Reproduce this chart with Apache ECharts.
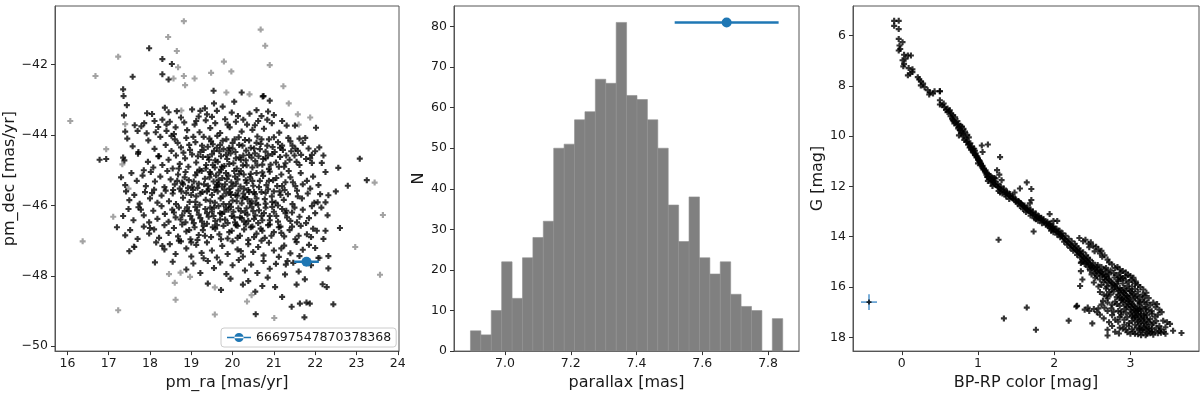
<!DOCTYPE html>
<html>
<head>
<meta charset="utf-8">
<script src="https://cdn.jsdelivr.net/npm/echarts@6.0.0/dist/echarts.min.js"></script>
<style>
html, body { margin: 0; padding: 0; background: #fff; }
#container { width: 1200px; height: 396px; }
</style>
</head>
<body>
<div id="container"></div>
<script>
// ---- data ----
var starId = '66697547870378368';

// target star: [x, y, xerr, yerr]
var pmStar = [21.79, -47.60, 0.30, 0];
var plxStar = [7.674, 81, 0.158, 0];
var cmdStar = [-0.43, 16.60, 0.105, 0.316];

// proper motions of field stars (gray) and members (black)
var pmGray = [
    [18.82, -40.76], [18.44, -41.21], [20.68, -41.00], [20.79, -41.46], [18.65, -41.61],
    [17.23, -41.77], [19.79, -41.91], [20.90, -42.01], [18.68, -42.07], [16.68, -42.32],
    [18.57, -42.39], [18.82, -42.32], [19.08, -42.39], [19.48, -42.23], [19.97, -42.19],
    [18.85, -42.58], [21.23, -42.61], [19.85, -42.79], [20.41, -42.84], [21.36, -43.10],
    [18.76, -43.30], [21.58, -43.41], [21.88, -43.50], [16.07, -43.60], [17.40, -43.69],
    [16.94, -44.40], [17.33, -44.83], [17.48, -45.52], [23.44, -45.35], [23.64, -46.27],
    [17.11, -46.32], [16.37, -47.02], [17.61, -47.16], [22.97, -47.18], [22.11, -47.49],
    [18.46, -47.95], [18.74, -47.91], [18.60, -48.20], [18.97, -48.03], [19.57, -48.33],
    [23.57, -47.97], [18.62, -48.68], [20.46, -48.55], [20.35, -48.73], [17.23, -48.98],
    [19.57, -49.10], [21.01, -49.20], [21.60, -43.70]
];

var pmBlack = [
    [17.98, -41.53], [18.30, -41.84], [18.53, -41.98], [17.58, -42.34], [18.30, -42.27],
    [18.45, -42.42], [17.35, -42.70], [17.36, -42.89], [19.54, -42.74], [20.22, -42.79],
    [20.73, -42.90], [20.90, -43.02],
    [17.44, -43.15], [17.37, -43.44], [17.93, -43.38], [18.05, -43.40], [18.36, -43.22],
    [18.45, -43.35], [18.65, -43.32], [19.02, -43.27], [19.22, -43.31], [19.33, -43.24],
    [19.38, -43.41], [19.18, -43.47], [19.55, -43.10], [19.62, -43.31], [19.76, -43.19],
    [20.04, -43.05], [19.98, -43.36], [20.13, -43.46], [20.41, -43.39], [20.58, -43.29],
    [20.75, -42.89], [20.70, -43.46], [21.00, -43.43], [20.86, -43.33],
    [17.63, -43.72], [17.70, -43.88], [17.79, -43.75], [17.92, -43.95], [17.86, -43.66],
    [18.11, -43.60], [18.20, -43.77], [18.14, -43.92], [18.30, -43.56], [18.40, -43.70],
    [18.48, -43.62], [18.62, -43.78], [18.58, -43.97], [18.83, -43.64], [18.90, -43.86],
    [19.08, -43.70], [19.20, -43.92], [19.35, -43.58], [19.46, -43.80], [19.58, -43.66],
    [19.70, -43.94], [19.82, -43.55], [19.93, -43.78], [20.08, -43.62], [20.22, -43.90],
    [20.35, -43.70], [20.48, -43.85], [20.62, -43.60], [20.76, -43.82], [20.95, -43.66],
    [21.13, -43.93], [21.31, -43.73], [21.51, -43.73], [22.02, -43.79], [17.40, -43.90],
    [17.45, -44.10], [17.58, -44.32], [17.72, -44.48], [17.96, -44.15], [18.11, -44.39],
    [18.25, -44.05], [18.38, -44.28], [18.52, -44.45], [18.60, -44.12], [18.75, -44.35],
    [18.88, -44.08], [18.97, -44.42], [19.10, -44.20], [19.22, -44.48], [19.30, -44.05],
    [19.40, -44.33], [19.48, -44.18], [19.55, -44.45], [19.63, -44.02], [19.70, -44.28],
    [19.78, -44.40], [19.85, -44.12], [19.92, -44.36], [20.00, -44.22], [20.07, -44.48],
    [20.15, -44.06], [20.24, -44.30], [20.33, -44.44], [20.40, -44.15], [20.52, -44.38],
    [20.60, -44.04], [20.68, -44.25], [20.80, -44.47], [20.88, -44.12], [20.97, -44.34],
    [21.10, -44.20], [21.22, -44.42], [21.35, -44.08], [21.45, -44.30], [21.58, -44.45],
    [21.70, -44.22], [21.84, -44.38], [22.10, -44.35], [21.62, -44.10],
    [16.78, -44.70], [16.94, -44.68], [17.35, -44.64], [17.38, -44.72], [17.71, -44.53],
    [17.95, -44.76], [18.08, -44.92], [18.22, -44.60], [18.30, -44.85], [18.45, -44.70],
    [18.55, -44.95], [18.63, -44.58], [18.72, -44.82], [18.85, -44.66], [18.93, -44.90],
    [19.02, -44.55], [19.12, -44.78], [19.20, -44.98], [19.28, -44.62], [19.36, -44.85],
    [19.43, -44.70], [19.50, -44.55], [19.57, -44.92], [19.64, -44.76], [19.72, -44.60],
    [19.80, -44.88], [19.87, -44.68], [19.95, -44.52], [20.02, -44.80], [20.10, -44.95],
    [20.17, -44.63], [20.25, -44.86], [20.32, -44.72], [20.40, -44.56], [20.48, -44.92],
    [20.55, -44.74], [20.63, -44.60], [20.72, -44.84], [20.80, -44.66], [20.88, -44.96],
    [20.96, -44.54], [21.05, -44.78], [21.15, -44.62], [21.25, -44.90], [21.38, -44.70],
    [21.50, -44.58], [21.62, -44.85], [21.78, -44.68], [21.92, -44.56], [22.16, -44.79],
    [21.92, -44.79], [22.56, -44.93], [23.08, -44.67],
    [17.30, -45.20], [17.40, -45.42], [17.55, -45.08], [17.68, -45.30], [17.82, -45.15],
    [17.90, -45.45], [18.02, -45.05], [18.12, -45.32], [18.25, -45.18], [18.35, -45.48],
    [18.42, -45.02], [18.50, -45.26], [18.60, -45.40], [18.68, -45.12], [18.78, -45.35],
    [18.86, -45.05], [18.94, -45.28], [19.02, -45.46], [19.10, -45.14], [19.18, -45.38],
    [19.25, -45.02], [19.33, -45.24], [19.40, -45.44], [19.47, -45.10], [19.54, -45.32],
    [19.61, -45.48], [19.68, -45.06], [19.75, -45.22], [19.82, -45.40], [19.90, -45.15],
    [19.97, -45.34], [20.04, -45.02], [20.12, -45.26], [20.19, -45.46], [20.27, -45.12],
    [20.34, -45.36], [20.42, -45.20], [20.50, -45.44], [20.58, -45.08], [20.66, -45.30],
    [20.74, -45.16], [20.82, -45.42], [20.90, -45.04], [20.98, -45.28], [21.08, -45.45],
    [21.18, -45.12], [21.28, -45.34], [21.40, -45.20], [21.52, -45.45], [21.65, -45.08],
    [21.80, -45.30], [21.95, -45.18], [22.08, -45.42], [22.25, -45.05], [22.79, -45.44],
    [23.25, -45.28],
    [17.42, -45.60], [17.50, -45.85], [17.62, -45.70], [17.75, -45.95], [17.88, -45.62],
    [18.00, -45.80], [18.10, -45.55], [18.18, -45.92], [18.28, -45.72], [18.38, -45.58],
    [18.46, -45.88], [18.55, -45.66], [18.63, -45.96], [18.72, -45.52], [18.80, -45.78],
    [18.88, -45.64], [18.96, -45.90], [19.04, -45.56], [19.12, -45.74], [19.20, -45.98],
    [19.27, -45.62], [19.35, -45.84], [19.42, -45.54], [19.50, -45.70], [19.57, -45.92],
    [19.64, -45.60], [19.71, -45.80], [19.78, -45.96], [19.85, -45.66], [19.92, -45.52],
    [20.00, -45.86], [20.07, -45.70], [20.14, -45.58], [20.22, -45.94], [20.30, -45.76],
    [20.38, -45.56], [20.46, -45.88], [20.54, -45.68], [20.62, -45.98], [20.70, -45.62],
    [20.78, -45.82], [20.86, -45.54], [20.95, -45.74], [21.04, -45.92], [21.14, -45.60],
    [21.24, -45.84], [21.34, -45.68], [21.45, -45.96], [21.56, -45.58], [21.68, -45.80],
    [21.82, -45.66], [21.98, -45.92], [22.06, -45.91], [22.25, -45.91], [22.32, -45.71],
    [22.50, -45.60],
    [17.35, -46.30], [17.48, -46.10], [17.60, -46.42], [17.72, -46.05], [17.85, -46.28],
    [17.98, -46.48], [18.08, -46.15], [18.18, -46.38], [18.28, -46.02], [18.36, -46.24],
    [18.45, -46.46], [18.54, -46.12], [18.62, -46.34], [18.70, -46.06], [18.78, -46.28],
    [18.86, -46.48], [18.94, -46.16], [19.02, -46.40], [19.10, -46.04], [19.18, -46.26],
    [19.26, -46.46], [19.34, -46.10], [19.42, -46.32], [19.50, -46.18], [19.58, -46.44],
    [19.66, -46.02], [19.74, -46.24], [19.82, -46.40], [19.90, -46.12], [19.98, -46.30],
    [20.06, -46.48], [20.14, -46.08], [20.22, -46.36], [20.30, -46.20], [20.38, -46.44],
    [20.46, -46.04], [20.55, -46.28], [20.64, -46.14], [20.72, -46.42], [20.80, -46.06],
    [20.90, -46.30], [21.00, -46.18], [21.10, -46.46], [21.20, -46.10], [21.32, -46.34],
    [21.44, -46.20], [21.56, -46.48], [21.70, -46.12], [21.85, -46.36], [22.00, -46.22],
    [22.15, -46.06], [22.30, -46.28],
    [17.20, -46.62], [17.40, -46.85], [17.52, -46.70], [17.70, -46.95], [17.85, -46.60],
    [17.98, -46.80], [18.10, -46.68], [18.22, -46.92], [18.35, -46.56], [18.45, -46.78],
    [18.58, -46.64], [18.68, -46.88], [18.78, -46.54], [18.88, -46.74], [18.98, -46.96],
    [19.08, -46.62], [19.18, -46.84], [19.28, -46.70], [19.38, -46.52], [19.48, -46.90],
    [19.58, -46.66], [19.68, -46.82], [19.78, -46.58], [19.88, -46.94], [19.98, -46.72],
    [20.08, -46.56], [20.18, -46.86], [20.28, -46.68], [20.38, -46.98], [20.48, -46.60],
    [20.58, -46.80], [20.68, -46.66], [20.78, -46.92], [20.90, -46.54], [21.00, -46.76],
    [21.12, -46.62], [21.25, -46.88], [21.38, -46.70], [21.52, -46.96], [21.65, -46.58],
    [21.80, -46.82], [21.95, -46.66], [22.04, -46.72], [22.25, -46.72], [22.60, -46.64],
    [22.20, -46.95],
    [17.50, -47.30], [17.62, -47.18], [18.15, -47.05], [18.35, -47.25], [18.48, -47.10],
    [18.62, -47.38], [18.75, -47.02], [18.88, -47.22], [19.00, -47.45], [19.12, -47.12],
    [19.25, -47.35], [19.38, -47.05], [19.50, -47.28], [19.62, -47.48], [19.75, -47.15],
    [19.88, -47.38], [20.00, -47.02], [20.12, -47.25], [20.25, -47.45], [20.38, -47.10],
    [20.50, -47.32], [20.62, -47.18], [20.75, -47.42], [20.88, -47.06], [21.00, -47.28],
    [21.12, -47.46], [21.25, -47.14], [21.40, -47.36], [21.55, -47.04], [21.70, -47.26],
    [21.85, -47.12], [22.00, -47.21], [22.32, -47.44], [22.08, -47.49],
    [18.12, -47.62], [18.55, -47.60], [18.88, -47.82], [19.05, -47.65], [19.22, -47.92],
    [19.40, -47.58], [19.55, -47.78], [19.70, -47.62], [19.85, -47.95], [20.00, -47.70],
    [20.15, -47.55], [20.30, -47.85], [20.45, -47.68], [20.60, -47.92], [20.75, -47.58],
    [20.90, -47.80], [21.05, -47.66], [21.33, -47.58], [21.29, -47.68], [21.47, -47.63],
    [21.27, -47.96], [22.32, -47.79], [21.60, -47.88],
    [19.40, -48.22], [19.72, -48.40], [19.95, -48.08], [20.25, -48.25], [20.38, -48.15],
    [20.72, -48.29], [21.03, -48.32], [21.75, -48.10], [22.18, -48.24], [22.28, -48.32],
    [20.55, -48.45], [20.85, -48.05],
    [21.43, -48.88], [21.63, -48.79], [21.79, -48.76], [21.87, -48.79], [22.44, -48.81],
    [20.56, -49.09], [21.74, -49.18], [21.20, -48.60],
    [19.35, -44.95], [19.45, -45.05], [19.52, -44.85], [19.60, -45.15], [19.66, -45.38],
    [19.72, -44.98], [19.80, -45.55], [19.86, -45.25], [19.94, -45.62], [20.00, -45.45],
    [20.06, -45.18], [20.12, -45.72], [20.20, -45.02], [20.28, -45.52], [20.36, -45.82],
    [20.44, -45.10], [20.52, -45.62], [20.60, -44.86], [19.38, -45.60], [19.46, -45.88],
    [19.55, -46.06], [19.62, -45.42], [19.70, -46.22], [19.76, -45.74], [19.84, -46.06],
    [19.92, -45.96], [20.02, -46.18], [20.10, -45.88], [20.18, -46.34], [20.26, -45.66],
    [20.34, -46.08], [20.42, -45.94], [20.50, -46.16], [20.58, -45.80], [19.30, -44.42],
    [19.40, -44.62], [19.52, -44.26], [19.58, -44.72], [19.68, -44.46], [19.76, -44.16],
    [19.84, -44.56], [19.92, -44.82], [20.00, -44.38], [20.08, -44.66], [20.16, -44.28],
    [20.26, -44.58], [20.34, -44.86], [20.44, -44.36], [20.54, -44.52], [20.66, -44.40],
    [20.74, -44.68], [20.84, -44.30], [20.92, -44.84], [21.02, -44.48], [21.12, -44.90],
    [21.20, -44.30], [21.30, -44.58], [21.42, -44.46], [21.55, -44.76], [19.00, -45.70],
    [19.10, -45.90], [19.15, -45.50], [18.90, -46.05], [18.80, -45.40], [18.70, -44.95],
    [20.70, -46.30], [20.80, -45.95], [20.90, -46.42], [21.00, -45.60], [21.10, -46.00],
    [21.20, -45.45], [21.30, -46.15],
    [18.52, -44.02], [18.67, -44.22], [18.81, -44.50], [18.95, -44.28], [19.05, -44.05],
    [19.16, -44.60], [19.26, -44.30], [19.44, -44.10], [19.62, -44.36], [19.74, -44.90],
    [19.90, -44.44], [20.05, -44.12], [20.20, -44.70], [20.30, -44.14], [20.46, -44.64],
    [20.58, -44.22], [20.70, -44.12], [20.86, -44.58], [21.00, -44.06], [21.15, -44.36],
    [21.28, -44.80], [21.40, -44.18], [21.52, -44.38], [21.66, -44.56], [21.76, -44.08],
    [21.88, -44.66], [22.00, -44.46], [22.20, -44.58], [18.56, -45.56], [18.66, -45.30],
    [18.76, -45.60], [18.84, -45.20], [18.92, -45.50], [19.06, -45.32], [19.14, -45.06],
    [19.22, -45.66], [19.31, -45.40], [19.44, -45.20], [19.56, -45.56], [19.66, -45.28],
    [19.74, -45.46], [19.84, -45.08], [19.96, -45.70], [20.08, -45.38], [20.16, -45.10],
    [20.24, -45.80], [20.32, -45.28], [20.40, -45.62], [20.48, -45.30], [20.56, -45.94],
    [20.64, -45.48], [20.72, -45.06], [20.80, -45.64], [20.88, -45.30], [20.96, -45.90],
    [21.06, -45.22], [21.16, -45.70], [21.26, -45.56], [21.36, -45.02], [21.46, -45.34],
    [21.58, -45.74], [21.70, -45.40], [21.88, -45.52], [22.12, -45.68], [18.58, -46.20],
    [18.74, -46.40], [18.84, -46.16], [18.98, -46.30], [19.06, -46.50], [19.14, -46.14],
    [19.22, -46.36], [19.30, -46.58], [19.38, -46.22], [19.46, -46.06], [19.54, -46.30],
    [19.62, -46.56], [19.70, -46.40], [19.80, -46.18], [19.88, -46.50], [19.96, -46.04],
    [20.04, -46.34], [20.12, -46.58], [20.20, -46.16], [20.28, -46.46], [20.36, -46.26],
    [20.44, -46.62], [20.52, -46.38], [20.62, -46.50], [20.76, -46.22], [20.86, -46.56],
    [20.96, -46.04], [21.06, -46.30], [21.16, -46.60], [21.28, -46.22], [21.40, -46.44],
    [21.50, -46.06], [21.62, -46.32], [21.78, -46.50], [21.92, -46.02], [18.70, -47.00],
    [18.95, -46.70], [19.15, -46.98], [19.33, -46.86], [19.52, -46.62], [19.72, -46.96],
    [19.92, -46.76], [20.12, -46.92], [20.32, -46.54], [20.52, -46.90], [20.72, -46.72],
    [20.94, -46.86], [21.18, -46.78], [21.44, -46.60], [21.60, -46.86], [21.90, -46.90],
    [18.40, -43.88], [18.75, -43.50], [19.12, -43.60], [19.50, -43.48], [19.88, -43.70],
    [20.26, -43.56], [20.54, -43.72], [20.84, -43.56], [21.20, -43.60], [18.20, -44.60],
    [17.85, -45.00], [18.05, -45.65], [17.78, -46.12], [18.00, -46.64], [18.30, -47.15],
    [19.00, -47.05], [19.30, -47.50], [20.20, -47.30], [20.70, -47.00], [21.18, -47.22],
    [21.62, -47.44], [21.90, -47.70], [21.55, -48.25]
];

// parallax histogram
var binStart = 6.895;
var binWidth = 0.03165;
var plxCounts = [5, 4, 10, 22, 13, 23, 28, 32, 50, 51, 57, 59, 67, 66, 81,
                 63, 62, 57, 50, 36, 27, 38, 23, 19, 22, 14, 11, 10, 0, 8];

// colour-magnitude diagram: [BP-RP, G]
var cmdPoints = [
    [-0.10, 5.41], [-0.04, 5.41], [-0.10, 5.61], [-0.04, 5.74], [-0.04, 6.13],
    [0.01, 6.26], [-0.03, 6.39], [-0.02, 6.53], [-0.04, 6.59], [0.03, 6.76],
    [0.08, 6.79], [0.12, 6.79], [0.05, 6.92], [0.01, 6.98], [0.03, 7.12],
    [0.02, 7.22], [0.09, 7.29], [0.14, 7.34], [0.11, 7.51], [0.14, 7.45],
    [0.08, 7.58], [0.21, 7.65], [0.23, 7.74], [0.25, 7.82], [0.28, 7.91],
    [0.25, 7.98], [0.30, 8.05], [0.34, 8.17], [0.37, 8.26], [0.41, 8.30],
    [0.36, 8.34], [0.43, 8.21], [0.50, 8.21], [0.50, 8.57], [0.50, 8.74],
    [0.53, 8.77], [0.56, 8.84], [0.60, 8.90], [0.63, 8.97], [0.65, 9.10],
    [0.67, 9.17], [0.60, 9.04], [0.67, 9.36], [0.69, 9.49], [0.72, 9.55],
    [0.74, 9.69], [0.76, 9.75], [0.78, 9.88], [0.75, 9.97], [0.80, 10.01],
    [0.82, 10.15], [0.85, 10.21], [0.87, 10.34], [0.89, 10.45], [0.91, 10.54],
    [0.93, 10.61], [0.96, 10.74], [0.98, 10.84], [1.00, 10.93], [1.02, 11.00],
    [1.04, 11.13], [1.06, 11.26], [1.09, 11.39], [1.11, 11.53], [1.13, 11.63],
    [0.70, 9.25], [0.73, 9.40], [0.77, 9.58], [0.79, 9.62], [0.83, 9.82],
    [0.86, 9.95], [0.88, 10.05], [0.90, 10.28], [0.92, 10.40], [0.95, 10.50],
    [0.97, 10.68], [0.99, 10.80], [1.01, 10.95], [1.03, 11.05], [1.05, 11.20],
    [1.07, 11.32], [1.10, 11.45], [0.66, 9.30], [0.74, 9.52], [0.96, 10.58],
    [1.00, 11.08],
    [0.50, 8.21], [0.81, 9.71], [1.05, 10.37], [1.13, 10.33], [1.06, 10.63],
    [1.29, 10.83], [1.25, 11.35], [1.28, 11.53], [1.31, 11.75], [1.64, 11.84],
    [1.70, 12.10], [1.55, 12.08], [1.48, 12.24], [1.70, 12.54], [1.68, 12.67],
    [1.94, 13.10], [2.04, 13.37], [1.99, 13.37], [1.73, 13.79],
    [1.12, 11.62], [1.15, 11.70], [1.13, 11.78], [1.18, 11.75], [1.17, 11.85],
    [1.20, 11.82], [1.22, 11.92], [1.19, 11.98], [1.24, 11.95], [1.26, 12.02],
    [1.23, 11.68], [1.16, 11.58], [1.21, 11.66],
    [1.28, 12.05], [1.30, 12.12], [1.27, 12.18], [1.33, 12.15], [1.35, 12.22],
    [1.32, 12.28], [1.38, 12.26], [1.40, 12.35], [1.37, 12.40], [1.42, 12.38],
    [1.44, 12.45], [1.41, 12.50], [1.46, 12.48], [1.29, 12.24], [1.36, 12.32],
    [1.48, 12.55], [1.50, 12.60], [1.53, 12.58], [1.52, 12.68], [1.56, 12.66],
    [1.58, 12.74], [1.55, 12.78], [1.60, 12.80], [1.62, 12.86], [1.59, 12.90],
    [1.64, 12.92], [1.66, 12.98], [1.63, 13.02], [1.68, 13.00],
    [1.70, 13.05], [1.72, 13.12], [1.69, 13.16], [1.75, 13.14], [1.77, 13.22],
    [1.74, 13.26], [1.80, 13.25], [1.82, 13.32], [1.79, 13.36], [1.85, 13.35],
    [1.87, 13.42], [1.84, 13.46], [1.90, 13.45], [1.89, 13.52], [1.76, 13.30],
    [1.93, 13.50],
    [1.92, 13.58], [1.95, 13.56], [1.94, 13.64], [1.98, 13.62], [1.97, 13.70],
    [2.00, 13.72], [2.02, 13.78], [1.99, 13.82], [2.05, 13.80], [2.06, 13.88],
    [2.04, 13.92], [2.09, 13.90], [2.10, 13.98], [2.08, 14.02], [1.96, 13.76],
    [2.12, 14.05], [2.14, 14.10], [2.16, 14.16], [2.13, 14.20], [2.18, 14.22],
    [2.20, 14.28], [2.17, 14.32], [2.22, 14.34], [2.24, 14.40], [2.21, 14.44],
    [2.26, 14.46], [2.28, 14.52], [2.25, 14.56], [2.30, 14.55],
    [2.31, 14.62], [2.33, 14.66], [2.30, 14.72], [2.35, 14.70], [2.37, 14.78],
    [2.34, 14.82], [2.39, 14.84], [2.41, 14.90], [2.38, 14.94], [2.43, 14.96],
    [2.45, 15.02], [2.42, 15.06], [2.36, 15.00], [2.40, 15.08],
    [2.46, 15.10], [2.48, 15.18], [2.50, 15.14], [2.52, 15.22], [2.49, 15.26],
    [2.54, 15.28], [2.56, 15.20], [2.58, 15.32], [2.55, 15.38], [2.60, 15.36],
    [2.62, 15.42], [2.59, 15.46], [2.64, 15.48], [2.57, 15.12], [2.66, 15.30],
    [2.70, 15.40], [2.47, 15.34], [2.53, 15.44], [2.44, 15.20],
    [2.63, 15.55], [2.66, 15.60], [2.68, 15.56], [2.70, 15.66], [2.67, 15.72],
    [2.72, 15.70], [2.74, 15.78], [2.71, 15.84], [2.76, 15.82], [2.78, 15.90],
    [2.75, 15.95], [2.80, 15.94], [2.82, 15.88], [2.65, 15.80], [2.60, 15.70],
    [2.84, 15.76], [2.88, 15.68], [2.79, 15.62], [2.69, 15.98], [2.62, 15.92],
    [2.80, 16.02], [2.83, 16.08], [2.86, 16.04], [2.85, 16.14], [2.88, 16.12],
    [2.90, 16.20], [2.87, 16.26], [2.92, 16.24], [2.94, 16.32], [2.91, 16.38],
    [2.96, 16.36], [2.98, 16.44], [2.95, 16.48], [2.78, 16.18], [2.74, 16.30],
    [2.82, 16.40], [3.00, 16.16], [3.04, 16.28], [2.70, 16.45], [2.76, 16.10],
    [3.06, 16.42], [2.89, 16.46],
    [2.97, 16.55], [3.00, 16.60], [2.98, 16.68], [3.02, 16.66], [3.04, 16.74],
    [3.01, 16.80], [3.06, 16.78], [3.08, 16.86], [3.05, 16.92], [3.10, 16.90],
    [3.03, 16.98], [2.90, 16.62], [2.86, 16.75], [2.92, 16.88], [2.80, 16.58],
    [2.84, 16.95], [3.12, 16.70], [3.15, 16.82], [3.18, 16.60], [2.94, 16.72],
    [2.88, 16.52], [3.14, 16.96], [2.75, 16.85], [3.20, 16.88],
    [3.08, 17.02], [3.10, 17.10], [3.06, 17.14], [3.12, 17.18], [3.14, 17.26],
    [3.09, 17.30], [3.16, 17.34], [3.18, 17.42], [3.12, 17.46], [3.20, 17.48],
    [3.00, 17.06], [2.96, 17.20], [3.02, 17.36], [2.92, 17.30], [3.22, 17.12],
    [3.26, 17.28], [3.24, 17.40], [2.88, 17.10], [2.98, 17.44], [3.04, 17.24],
    [3.28, 17.06], [3.18, 17.22], [2.84, 17.38], [3.30, 17.44],
    [3.14, 17.55], [3.18, 17.62], [3.22, 17.58], [3.20, 17.70], [3.24, 17.76],
    [3.16, 17.80], [3.26, 17.84], [3.12, 17.72], [3.08, 17.62], [3.04, 17.78],
    [3.00, 17.86], [3.28, 17.66], [3.32, 17.78], [3.36, 17.84], [3.40, 17.82],
    [3.10, 17.88], [2.96, 17.80], [3.30, 17.90], [3.20, 17.92], [3.44, 17.78],
    [2.33, 14.05], [2.38, 14.18], [2.41, 14.12], [2.45, 14.28], [2.48, 14.22],
    [2.51, 14.36], [2.46, 14.42], [2.55, 14.40], [2.58, 14.50], [2.53, 14.58],
    [2.62, 14.56], [2.60, 14.66], [2.66, 14.74], [2.63, 14.80], [2.70, 14.91],
    [2.72, 15.02], [2.76, 15.10], [2.80, 15.24], [2.83, 15.20], [2.86, 15.30],
    [2.90, 15.36], [2.87, 15.44], [2.94, 15.42], [2.97, 15.52], [2.93, 15.58],
    [3.00, 15.56], [3.04, 15.63], [3.02, 15.72], [3.07, 15.78], [3.06, 15.86],
    [3.10, 15.92], [3.13, 16.00], [3.17, 16.10], [3.21, 16.23], [3.19, 16.36],
    [3.24, 16.44], [3.30, 16.62], [3.35, 16.68], [3.33, 16.80], [3.38, 16.90],
    [3.41, 17.00], [3.36, 17.10], [3.43, 17.34], [3.48, 17.40], [3.52, 17.47],
    [3.56, 17.74], [3.67, 17.83], [3.46, 17.60], [3.38, 17.55],
    [2.35, 15.37], [2.37, 15.70], [2.34, 15.96], [2.35, 15.04], [2.49, 15.50],
    [2.54, 15.63], [2.60, 16.20], [2.65, 16.30], [2.69, 16.35], [2.30, 16.75],
    [2.44, 16.82], [2.46, 16.95], [2.52, 16.88], [2.56, 17.00], [2.50, 17.45],
    [2.60, 17.10], [2.65, 17.25], [2.70, 17.70], [2.70, 17.93], [2.62, 16.70],
    [2.58, 16.85], [2.72, 17.40], [2.76, 17.55], [2.80, 17.78], [2.85, 17.85],
    [2.40, 16.90],
    [1.27, 14.12], [1.34, 17.25], [1.64, 16.82], [1.76, 17.70], [2.19, 17.34],
    [2.29, 16.78],
    [0.55, 8.70], [0.58, 8.95], [0.62, 9.02], [0.64, 9.20], [0.68, 9.40],
    [0.71, 9.45], [0.75, 9.64], [0.78, 9.80], [0.81, 9.90], [0.84, 10.08],
    [0.86, 10.22], [0.88, 10.30], [0.91, 10.47], [0.93, 10.52], [0.94, 10.66],
    [0.97, 10.76], [1.00, 10.88], [1.02, 10.98], [1.04, 11.10], [1.06, 11.18],
    [1.08, 11.30], [1.10, 11.36], [1.12, 11.48], [1.14, 11.52],
    [1.18, 11.64], [1.22, 11.80], [1.26, 11.90], [1.30, 12.00], [1.34, 12.08],
    [1.38, 12.20], [1.42, 12.30], [1.46, 12.40], [1.50, 12.52], [1.54, 12.62],
    [1.57, 12.70], [1.61, 12.76], [1.65, 12.84], [1.69, 12.92], [1.72, 13.00],
    [1.76, 13.08], [1.80, 13.18], [1.83, 13.24], [1.86, 13.30], [1.91, 13.40],
    [1.95, 13.48], [1.99, 13.60], [2.03, 13.68], [2.07, 13.76], [2.11, 13.86],
    [2.15, 13.96], [2.19, 14.08], [2.23, 14.18], [2.27, 14.28], [2.29, 14.38],
    [2.32, 14.46], [2.34, 14.56], [2.38, 14.62], [2.42, 14.74], [2.44, 14.84],
    [2.47, 14.92], [2.51, 15.04],
    [2.62, 15.20], [2.68, 15.24], [2.74, 15.34], [2.78, 15.44], [2.72, 15.50],
    [2.82, 15.52], [2.86, 15.60], [2.90, 15.64], [2.84, 15.70], [2.94, 15.74],
    [2.98, 15.80], [2.90, 15.86], [2.96, 15.96], [3.02, 15.98], [2.92, 16.04],
    [2.98, 16.10], [3.06, 16.08], [3.10, 16.18], [2.94, 16.16], [3.02, 16.22],
    [3.08, 16.34], [3.12, 16.40], [3.00, 16.34], [2.84, 16.30], [2.86, 16.44],
    [2.92, 16.54], [3.04, 16.50], [3.10, 16.56], [3.16, 16.50], [3.22, 16.62],
    [3.26, 16.72], [3.20, 16.78], [3.24, 16.90], [3.28, 16.96], [3.12, 16.62],
    [2.96, 16.80], [3.00, 16.90], [3.08, 16.96], [2.82, 16.68], [2.78, 16.98],
    [2.88, 16.98], [2.94, 17.02], [3.02, 17.14], [3.06, 17.20], [3.14, 17.08],
    [3.20, 17.02], [3.32, 17.18], [3.34, 17.36], [3.28, 17.50], [3.22, 17.30],
    [3.10, 17.38], [3.06, 17.50], [2.98, 17.56], [2.92, 17.50], [2.90, 17.66],
    [3.02, 17.68], [3.12, 17.66], [3.16, 17.70], [3.24, 17.64], [3.34, 17.62],
    [3.40, 17.68], [3.46, 17.86], [3.38, 17.74], [3.28, 17.78], [3.22, 17.86],
    [3.14, 17.92], [3.06, 17.86], [2.94, 17.70], [2.86, 17.62], [2.80, 17.30],
    [2.76, 17.12], [2.70, 16.95], [2.66, 16.82], [2.64, 16.55], [2.70, 16.62],
    [2.76, 16.70], [2.72, 16.20], [2.68, 16.06], [2.58, 15.98], [2.52, 15.82],
    [2.56, 15.56], [3.16, 16.30], [3.12, 16.88], [3.18, 17.14], [2.86, 17.20]
];

// tick labels
var pmRaTicks = [16, 17, 18, 19, 20, 21, 22, 23, 24];
var pmDecTicks = [-42, -44, -46, -48, -50];
var plxTicks = [7.0, 7.2, 7.4, 7.6, 7.8];
var countTicks = [0, 10, 20, 30, 40, 50, 60, 70, 80];
var colorTicks = [0, 1, 2, 3];
var gTicks = [6, 8, 10, 12, 14, 16, 18];

// ---- chart ----
var dom = document.getElementById('container');
var myChart = echarts.init(dom, null, { renderer: 'canvas' });

var FONT = 'DejaVu Sans';
var plusSymbol = 'path://M3.2,0H6.8V3.2H10V6.8H6.8V10H3.2V6.8H0V3.2H3.2Z';
var blue = '#1f77b4';

function minus(v) {
    return String(v).replace('-', '\u2212');
}

function makeAxis(gridIndex, name, ticks, extra) {
    var axis = {
        type: 'value',
        gridIndex: gridIndex,
        name: name,
        nameLocation: 'middle',
        nameTextStyle: { fontFamily: FONT, fontSize: 16, color: '#1a1a1a' },
        splitLine: { show: false },
        axisLine: { show: true, onZero: false, lineStyle: { color: '#555', width: 1 } },
        axisTick: { show: true, inside: false, length: 4, customValues: ticks,
                    lineStyle: { color: '#333', width: 1 } },
        axisLabel: { customValues: ticks, fontFamily: FONT, fontSize: 12.5, color: '#1a1a1a',
                     formatter: minus, hideOverlap: false }
    };
    for (var k in extra) {
        if (k === 'axisLabel') {
            for (var j in extra[k]) axis.axisLabel[j] = extra[k][j];
        } else {
            axis[k] = extra[k];
        }
    }
    return axis;
}

function errorBarRenderer(color, width, dot) {
    return function (params, api) {
        var x = api.value(0), y = api.value(1), ex = api.value(2), ey = api.value(3);
        var c = api.coord([x, y]);
        var children = [];
        if (ex > 0) {
            var l = api.coord([x - ex, y]), r = api.coord([x + ex, y]);
            children.push({ type: 'line', shape: { x1: l[0], y1: l[1], x2: r[0], y2: r[1] },
                            style: { stroke: color, lineWidth: width } });
        }
        if (ey > 0) {
            var t = api.coord([x, y - ey]), b = api.coord([x, y + ey]);
            children.push({ type: 'line', shape: { x1: t[0], y1: t[1], x2: b[0], y2: b[1] },
                            style: { stroke: color, lineWidth: width } });
        }
        if (dot) {
            children.push({ type: 'circle', shape: { cx: c[0], cy: c[1], r: dot },
                            style: { fill: color } });
        }
        return { type: 'group', children: children };
    };
}

function renderHistBar(params, api) {
    var p0 = api.coord([api.value(0), api.value(2)]);
    var p1 = api.coord([api.value(1), 0]);
    return {
        type: 'rect',
        shape: { x: p0[0], y: p0[1], width: p1[0] - p0[0], height: p1[1] - p0[1] },
        style: { fill: '#808080', stroke: '#8e8e8e', lineWidth: 0.6 }
    };
}

var histData = [];
plxCounts.forEach(function (n, i) {
    if (n > 0) {
        histData.push([binStart + i * binWidth, binStart + (i + 1) * binWidth, n]);
    }
});

var option = {
    animation: false,
    backgroundColor: '#fff',
    textStyle: { fontFamily: FONT },
    grid: [
        { left: 55, right: 801, top: 6, bottom: 42, show: true, borderColor: '#555', borderWidth: 1 },
        { left: 454, right: 401, top: 6, bottom: 42, show: true, borderColor: '#555', borderWidth: 1 },
        { left: 853, right: 1, top: 6, bottom: 42, show: true, borderColor: '#555', borderWidth: 1 }
    ],
    legend: {
        data: [{ name: starId, icon: 'path://M0,4.3H26V5.7H0Z M8,5A5,5 0 1,0 18,5A5,5 0 1,0 8,5Z' }],
        left: 221, top: 328,
        itemWidth: 24, itemHeight: 10, itemGap: 5,
        padding: [3, 5, 3, 6],
        backgroundColor: 'rgba(255,255,255,0.8)',
        borderColor: '#ccc', borderWidth: 1, borderRadius: 3,
        textStyle: { fontFamily: FONT, fontSize: 12.5, color: '#1a1a1a' },
        selectedMode: false
    },
    xAxis: [
        makeAxis(0, 'pm_ra [mas/yr]', pmRaTicks, { min: 15.7, max: 24.03, nameGap: 19,
            axisLabel: { margin: 6 } }),
        makeAxis(1, 'parallax [mas]', plxTicks, { min: 6.845, max: 7.894, nameGap: 19,
            axisLabel: { margin: 6, formatter: function (v) { return v.toFixed(1); } } }),
        makeAxis(2, 'BP-RP color [mag]', colorTicks, { min: -0.64, max: 3.9, nameGap: 19,
            axisLabel: { margin: 6 } })
    ],
    yAxis: [
        makeAxis(0, 'pm_dec [mas/yr]', pmDecTicks, { min: -50.14, max: -40.33, nameGap: 33,
            axisLabel: { margin: 7 } }),
        makeAxis(1, 'N', countTicks, { min: 0, max: 85.05, nameGap: 27,
            axisLabel: { margin: 7 } }),
        makeAxis(2, 'G [mag]', gTicks, { min: 4.82, max: 18.55, inverse: true, nameGap: 26,
            axisLabel: { margin: 7 } })
    ],
    series: [
        {
            name: 'field', type: 'scatter', xAxisIndex: 0, yAxisIndex: 0,
            symbol: plusSymbol, symbolSize: 6,
            itemStyle: { color: '#8c8c8c' },
            data: pmGray, silent: true
        },
        {
            name: 'members', type: 'scatter', xAxisIndex: 0, yAxisIndex: 0,
            symbol: plusSymbol, symbolSize: 6,
            itemStyle: { color: '#000' },
            data: pmBlack, silent: true
        },
        {
            name: starId, type: 'custom', xAxisIndex: 0, yAxisIndex: 0,
            renderItem: errorBarRenderer(blue, 2.5, 5),
            itemStyle: { color: blue },
            data: [pmStar], z: 5, silent: true
        },
        {
            name: 'hist', type: 'custom', xAxisIndex: 1, yAxisIndex: 1,
            renderItem: renderHistBar,
            data: histData, silent: true
        },
        {
            name: 'plxStar', type: 'custom', xAxisIndex: 1, yAxisIndex: 1,
            renderItem: errorBarRenderer(blue, 2.5, 5),
            data: [plxStar], z: 5, silent: true
        },
        {
            name: 'cmd', type: 'scatter', xAxisIndex: 2, yAxisIndex: 2,
            symbol: plusSymbol, symbolSize: 6,
            itemStyle: { color: '#000' },
            data: cmdPoints, silent: true
        },
        {
            name: 'cmdStar', type: 'custom', xAxisIndex: 2, yAxisIndex: 2,
            renderItem: errorBarRenderer('#5b9bd0', 1.6, 0),
            data: [cmdStar], z: 5, silent: true
        },
        {
            name: 'cmdStarPoint', type: 'scatter', xAxisIndex: 2, yAxisIndex: 2,
            symbol: plusSymbol, symbolSize: 5,
            itemStyle: { color: '#000' },
            data: [[cmdStar[0], cmdStar[1]]], z: 6, silent: true
        }
    ]
};

if (option && typeof option === 'object') {
    myChart.setOption(option, true);
}
</script>
</body>
</html>
